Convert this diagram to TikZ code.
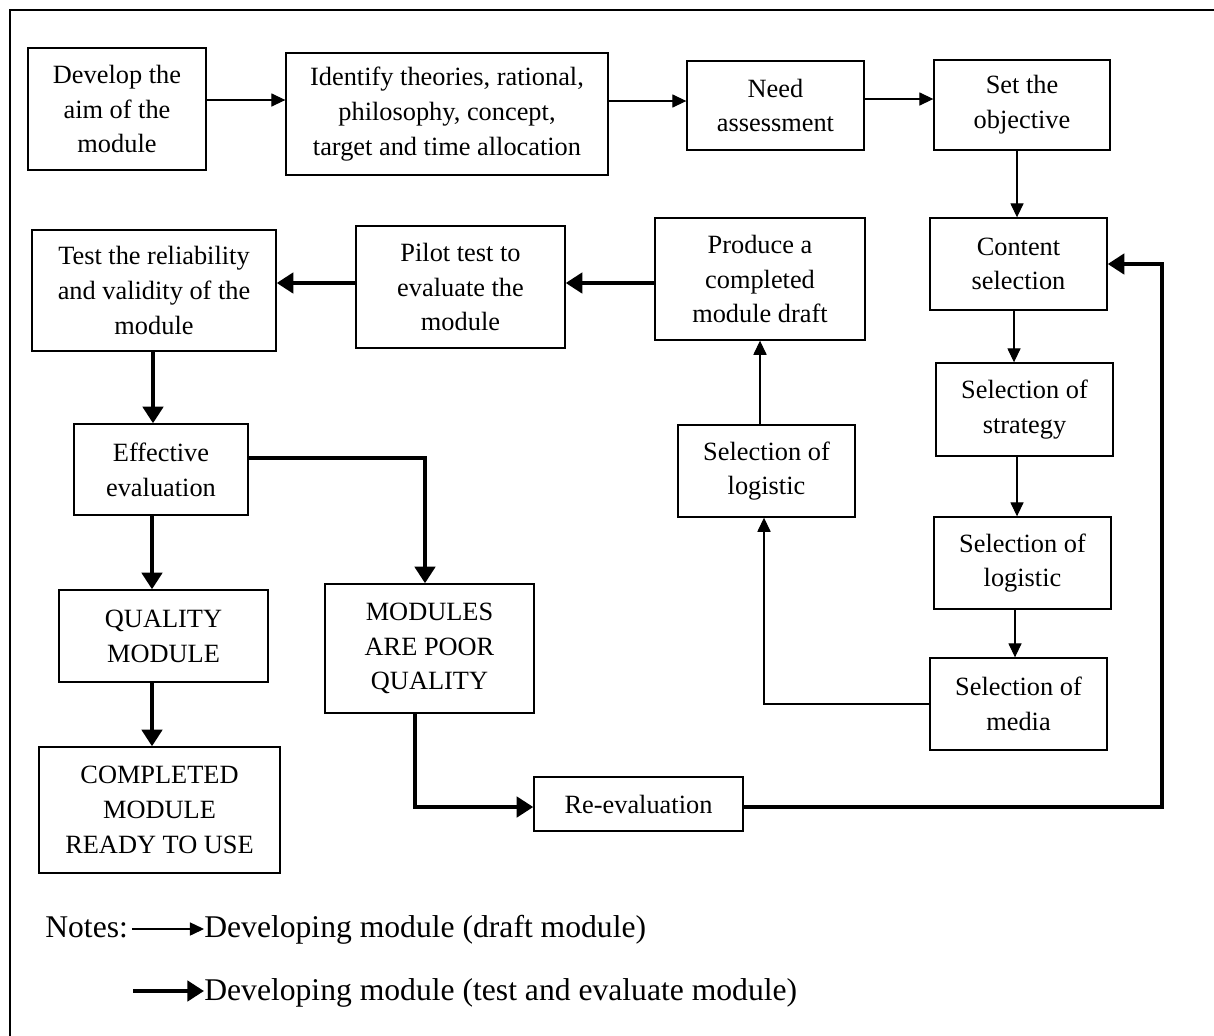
\documentclass[tikz,border=0pt]{standalone}
\usepackage{fontspec}
\setmainfont{Liberation Serif}
\usetikzlibrary{arrows.meta, positioning}

\begin{document}
\begin{tikzpicture}[
        x=0.02cm, y=-0.02cm,
        box/.style={rectangle, draw, line width=0.8pt, inner sep=0pt, align=center, font=\fontsize{15}{19.8}\selectfont},
        arrow/.style={-{Triangle[length=8pt, width=7.5pt]}, line width=0.6pt},
        thickarrow/.style={-{Triangle[length=9.5pt, width=11.5pt]}, line width=2.8pt},
        note/.style={inner sep=0pt, font=\fontsize{18}{21}\selectfont}
    ]
        \useasboundingbox (0,0) rectangle (1214,1035);
        % Frame
        \draw[line width=1pt] (10,1045) |- (1225,10);

        % Draft module
        \node[box, minimum width=3.56cm, minimum height=2.44cm] (aim) at (117,109) {Develop the\\aim of the\\module};
        \node[box, minimum width=6.44cm, minimum height=2.44cm] (theory) at (447,114) {Identify theories, rational,\\philosophy, concept,\\target and time allocation};
        \node[box, minimum width=3.54cm, minimum height=1.78cm] (need) at (775.5,105.5) {Need\\assessment};
        \node[box, minimum width=3.52cm, minimum height=1.8cm] (objective) at (1022,105) {Set the\\objective};
        \node[box, minimum width=3.54cm, minimum height=1.84cm] (content) at (1018.5,264) {Content\\selection};
        \node[box, minimum width=3.54cm, minimum height=1.86cm] (strategy) at (1024.5,409.5) {Selection of\\strategy};
        \node[box, minimum width=3.54cm, minimum height=1.84cm] (logisticR) at (1022.5,563) {Selection of\\logistic};
        \node[box, minimum width=3.54cm, minimum height=1.84cm] (media) at (1018.5,704) {Selection of\\media};
        \node[box, minimum width=3.54cm, minimum height=1.84cm] (logisticL) at (766.5,471) {Selection of\\logistic};
        \node[box, minimum width=4.2cm, minimum height=2.44cm] (draft) at (760,279) {Produce a\\completed\\module draft};

        % Test and evaluate
        \node[box, minimum width=4.18cm, minimum height=2.44cm] (pilot) at (460.5,287) {Pilot test to\\evaluate the\\module};
        \node[box, minimum width=4.88cm, minimum height=2.42cm] (reliab) at (154,290.5) {Test the reliability\\and validity of the\\module};
        \node[box, minimum width=3.48cm, minimum height=1.82cm] (effective) at (161,469.5) {Effective\\evaluation};
        \node[box, minimum width=4.18cm, minimum height=1.84cm] (quality) at (163.5,636) {QUALITY\\MODULE};
        \node[box, minimum width=4.18cm, minimum height=2.58cm] (poor) at (429.5,648.5) {MODULES\\ARE POOR\\QUALITY};
        \node[box, minimum width=4.82cm, minimum height=2.52cm] (ready) at (159.5,810) {COMPLETED\\MODULE\\READY TO USE};
        \node[box, minimum width=4.18cm, minimum height=1.08cm] (reeval) at (638.5,804) {Re-evaluation};

        % Notes
        \node[note, anchor=base west] (notes) at (45,937) {Notes:};
        \node[note, anchor=base west] (legdraft) at (204,937) {Developing module (draft module)};
        \node[note, anchor=base west] (legtest) at (204,1000) {Developing module (test and evaluate module)};
        \coordinate (legstart) at (133,991);

        % Thin arrows
        \draw[arrow] (aim.east |- 0,100) -- (theory.west |- 0,100);
        \draw[arrow] (theory.east |- 0,101) -- (need.west |- 0,101);
        \draw[arrow] (need.east |- 0,99) -- (objective.west |- 0,99);
        \draw[arrow] (objective.south -| 1017,0) -- (content.north -| 1017,0);
        \draw[arrow] (content.south -| 1014,0) -- (strategy.north -| 1014,0);
        \draw[arrow] (strategy.south -| 1017,0) -- (logisticR.north -| 1017,0);
        \draw[arrow] (logisticR.south -| 1015,0) -- (media.north -| 1015,0);
        \draw[arrow] (media.west) -| (logisticL.south -| 764,0);
        \draw[arrow] (logisticL.north -| draft.south) -- (draft.south);
        \draw[arrow] ([xshift=2pt]notes.east |- 0,929) -- (legdraft.west |- 0,929);

        % Thick arrows
        \draw[thickarrow] (draft.west |- 0,283) -- (pilot.east |- 0,283);
        \draw[thickarrow] (pilot.west |- 0,283) -- (reliab.east |- 0,283);
        \draw[thickarrow] (reliab.south -| 153,0) -- (effective.north -| 153,0);
        \draw[thickarrow] (effective.east |- 0,458) -| (425,0 |- poor.north);
        \draw[thickarrow] (effective.south -| 152,0) -- (quality.north -| 152,0);
        \draw[thickarrow] (quality.south -| 152,0) -- (ready.north -| 152,0);
        \draw[thickarrow] (poor.south -| 415,0) |- (reeval.west |- 0,807);
        \draw[thickarrow] (reeval.east |- 0,807) -| (1162,0 |- content.east) -- (content.east);
        \draw[thickarrow] (legstart) -- (legtest.west |- legstart);
    \end{tikzpicture}
\end{document}
